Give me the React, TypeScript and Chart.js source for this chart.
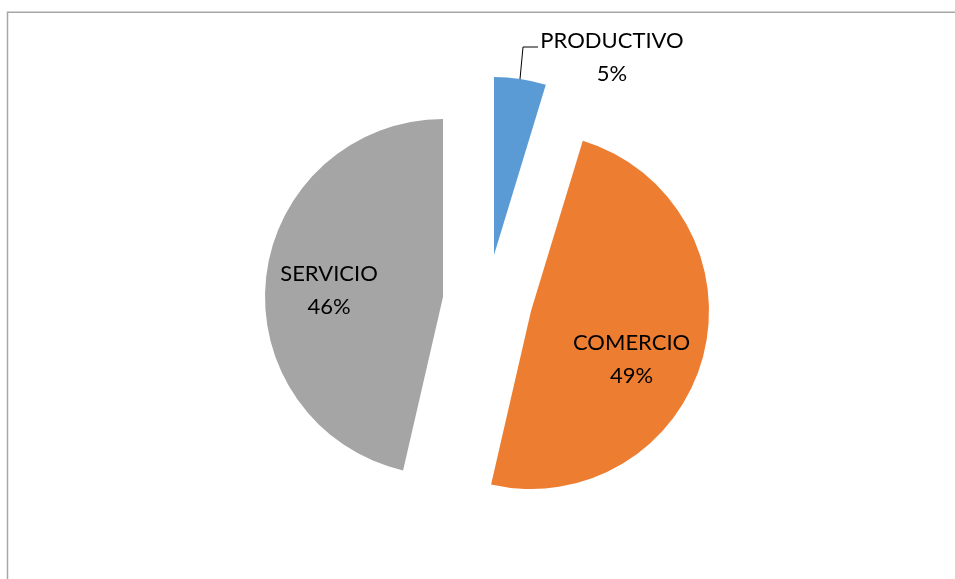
import { useEffect, useRef } from "react";
import { Chart, registerables } from "chart.js";

Chart.register(...registerables);

// ---- data ----
const categories = ["PRODUCTIVO", "COMERCIO", "SERVICIO"];
const shares = [4.7, 48.9, 46.4];

// ---- style ----
const sliceColors = ["#5B9BD5", "#ED7D31", "#A5A5A5"];
// displacement (px) of each exploded slice's apex from the pie centre
const explode = [
  { dx: 16.5, dy: -34.5 },
  { dx: 53.5, dy: 21.5 },
  { dx: -34.5, dy: 7.5 },
];
// label block centre relative to each slice's apex
const labelAnchor = [
  { dx: 118, dy: -198 },
  { dx: 100.6, dy: 48 },
  { dx: -114, dy: -7 },
];
// leader line for the outside label (relative to slice 0 apex)
const leader = [
  [44, -208],
  [29, -208],
  [26, -176],
];
const FONT_SIZE = 22;
const LINE_GAP = 33;

const explodePlugin = {
  id: "explodeSlices",
  afterDatasetUpdate(chart: any, args: any) {
    const { chartArea } = chart;
    const cx = (chartArea.left + chartArea.right) / 2;
    const cy = (chartArea.top + chartArea.bottom) / 2;
    args.meta.data.forEach((arc: any, i: number) => {
      arc.x = cx + explode[i].dx;
      arc.y = cy + explode[i].dy;
    });
  },
};

const framePlugin = {
  id: "frame",
  beforeDraw(chart: any) {
    const ctx = chart.ctx;
    ctx.save();
    ctx.fillStyle = "#ffffff";
    ctx.fillRect(0, 0, chart.width, chart.height);
    ctx.strokeStyle = "#a6a6a6";
    ctx.lineWidth = 1.5;
    ctx.beginPath();
    ctx.moveTo(7.5, chart.height + 20);
    ctx.lineTo(7.5, 12.25);
    ctx.lineTo(chart.width + 20, 12.25);
    ctx.stroke();
    ctx.restore();
  },
};

const labelPlugin = {
  id: "sliceLabels",
  afterDatasetsDraw(chart: any) {
    const ctx = chart.ctx;
    const meta = chart.getDatasetMeta(0);
    const total = shares.reduce((a, b) => a + b, 0);
    ctx.save();
    ctx.font = `${FONT_SIZE}px Lato`;
    ctx.fillStyle = "#000000";
    ctx.textAlign = "center";
    ctx.textBaseline = "alphabetic";
    const capHalf = (FONT_SIZE * 0.7165) / 2;
    meta.data.forEach((arc: any, i: number) => {
      const x = arc.x + labelAnchor[i].dx;
      const y = arc.y + labelAnchor[i].dy;
      const pct = Math.round((shares[i] / total) * 100);
      ctx.fillText(categories[i], x, y - LINE_GAP / 2 + capHalf);
      ctx.fillText(`${pct}%`, x, y + LINE_GAP / 2 + capHalf);
    });
    const a0 = meta.data[0];
    ctx.strokeStyle = "#000000";
    ctx.lineWidth = 1;
    ctx.beginPath();
    leader.forEach(([dx, dy], k) => {
      const px = a0.x + dx;
      const py = a0.y + dy;
      if (k === 0) ctx.moveTo(px, py);
      else ctx.lineTo(px, py);
    });
    ctx.stroke();
    ctx.restore();
  },
};

export default function App() {
  const canvasRef = useRef<HTMLCanvasElement | null>(null);

  useEffect(() => {
    if (!canvasRef.current) return;
    const chart = new Chart(canvasRef.current, {
      type: "pie",
      data: {
        labels: categories,
        datasets: [
          {
            data: shares,
            backgroundColor: sliceColors,
            borderWidth: 0,
          },
        ],
      },
      options: {
        responsive: false,
        animation: false,
        devicePixelRatio: 1,
        radius: 178,
        events: [],
        layout: { padding: 0 },
        plugins: {
          legend: { display: false },
          tooltip: { enabled: false },
        },
      },
      plugins: [framePlugin, explodePlugin, labelPlugin],
    });
    return () => chart.destroy();
  }, []);

  return (
    <div style={{ position: "fixed", left: 0, top: 0, width: 955, height: 579, background: "#fff" }}>
      <canvas ref={canvasRef} width={955} height={579} style={{ display: "block" }} />
    </div>
  );
}
